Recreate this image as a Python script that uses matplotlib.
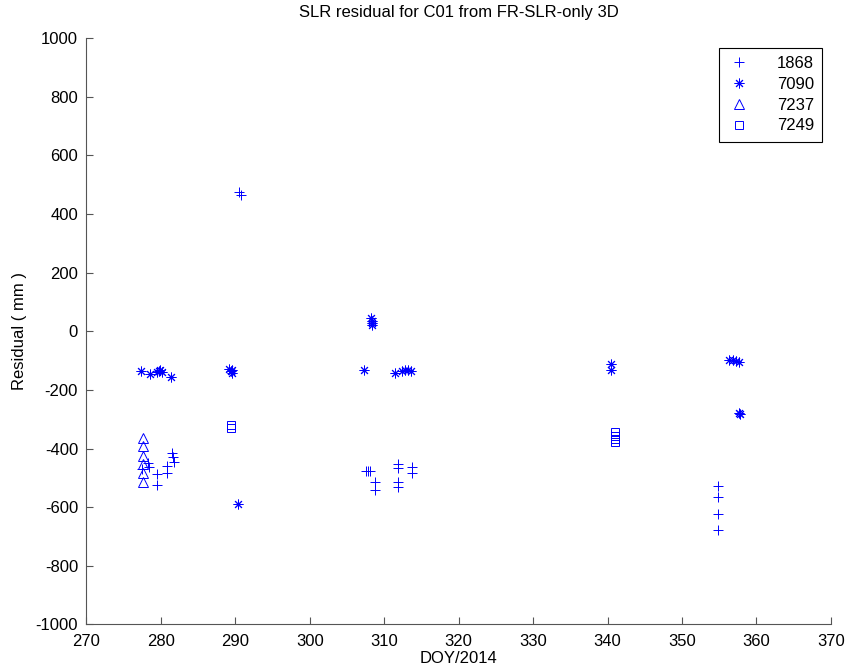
import numpy as np
import matplotlib
matplotlib.use("Agg")
import matplotlib.pyplot as plt

plt.rcParams['font.family'] = ['Liberation Sans', 'DejaVu Sans']
plt.rcParams['axes.unicode_minus'] = False

# ---- data (DOY, residual in mm) ----
doy_1868 = [277.5, 278.3, 278.4, 279.5, 279.5, 280.8, 280.8, 281.5, 281.6, 281.7,
            290.5, 290.7,
            307.5, 307.8, 308.1, 308.8, 308.8, 311.8, 311.8, 311.8, 311.8, 313.8, 313.8,
            354.8, 354.8, 354.8, 354.8]
res_1868 = [-470, -448, -462, -488, -525, -458, -485, -415, -430, -447,
            475, 465,
            -476, -478, -477, -513, -541, -453, -468, -513, -530, -462, -485,
            -527, -564, -624, -678]

doy_7090 = [277.4, 278.6, 279.5, 279.7, 279.9, 280.1, 281.3,
            289.2, 289.4, 289.6, 289.5, 290.4,
            307.3, 308.2, 308.3, 308.4, 308.3, 311.4, 312.4, 312.8, 313.2, 313.6,
            340.4, 340.4,
            356.3, 356.8, 357.3, 357.7, 357.7, 357.8]
res_7090 = [-134, -146, -140, -134, -133, -138, -157,
            -130, -136, -132, -143, -590,
            -132, 45, 35, 28, 22, -141, -135, -132, -133, -137,
            -110, -132,
            -97, -98, -100, -103, -278, -283]

doy_7237 = [277.6, 277.6, 277.6, 277.6, 277.6, 277.6]
res_7237 = [-365, -390, -425, -452, -485, -513]

doy_7249 = [289.4, 289.4, 341.0, 341.0, 341.0, 341.0]
res_7249 = [-320, -330, -345, -357, -367, -378]

fig = plt.figure(figsize=(8.47, 6.70), dpi=100)
ax = fig.add_axes([0.102, 0.068, 0.879, 0.875])

ax.plot(doy_1868, res_1868, '+', color='b', ms=7, mew=0.7, label='1868')
ax.plot(doy_7090, res_7090, marker=(8, 2, 0), ls='none', color='b', ms=7, mew=0.7, label='7090')
ax.plot(doy_7237, res_7237, '^', color='b', mfc='none', ms=6.5, mew=0.7, label='7237')
ax.plot(doy_7249, res_7249, 's', color='b', mfc='none', ms=6, mew=0.7, label='7249')

ax.set_xlim(270, 370)
ax.set_ylim(-1000, 1000)
ax.set_xticks(np.arange(270, 371, 10))
ax.set_yticks(np.arange(-1000, 1001, 200))
ax.tick_params(direction='in', labelsize=12, length=5, width=0.8, colors='#555555', labelcolor='black')
ax.tick_params(axis='x', pad=7)
ax.tick_params(axis='y', pad=6)
for s in ['top', 'right']:
    ax.spines[s].set_visible(False)
for s in ['left', 'bottom']:
    ax.spines[s].set_color('#555555')
    ax.spines[s].set_linewidth(0.8)

ax.set_title('SLR residual for C01 from FR-SLR-only 3D', fontsize=12, pad=15)
ax.set_xlabel('DOY/2014', fontsize=12, labelpad=1)
ax.set_ylabel('Residual ( mm )', fontsize=12, labelpad=6)

leg = ax.legend(loc='upper right', bbox_to_anchor=(0.971, 0.929),
                bbox_transform=fig.transFigure, fontsize=12, fancybox=False,
                edgecolor='black', framealpha=1, handlelength=1.5, handletextpad=1.5,
                borderpad=0.5, labelspacing=0.35, borderaxespad=0)
leg.get_frame().set_linewidth(0.8)

fig.savefig('out.png', dpi=100)
